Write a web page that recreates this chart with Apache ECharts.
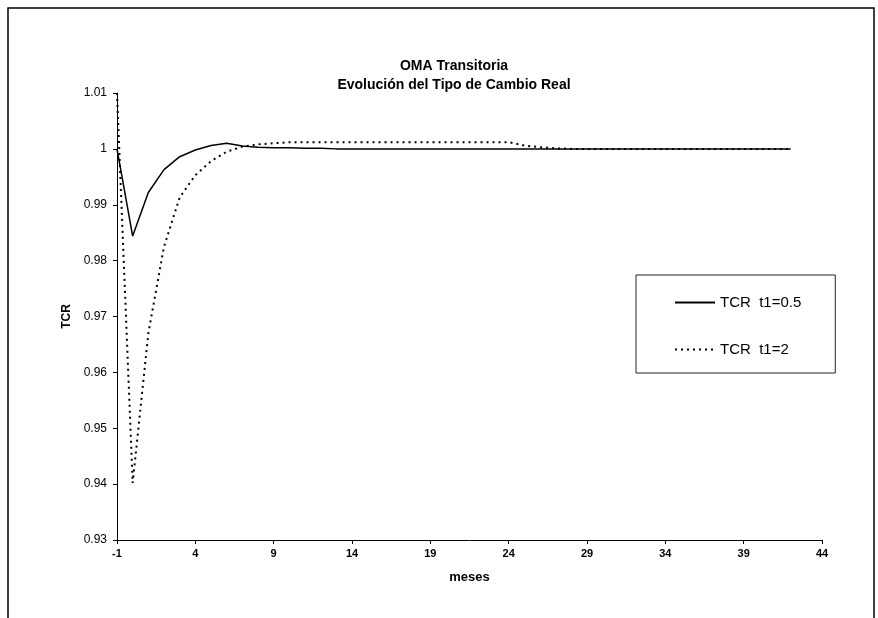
<!DOCTYPE html>
<html>
<head>
<meta charset="utf-8">
<script src="https://cdn.jsdelivr.net/npm/echarts@6/dist/echarts.min.js"></script>
<style>
html,body{margin:0;padding:0;background:#fff;}
#chart{width:878px;height:618px;}
</style>
</head>
<body>
<div id="chart"></div>
<script>
// Category ticks (months)
var months = [-1,0,1,2,3,4,5,6,7,8,9,10,11,12,13,14,15,16,17,18,19,20,21,22,23,24,25,26,27,28,29,30,31,32,33,34,35,36,37,38,39,40,41,42,43,44];
// TCR t1=0.5 (months -1..42)
var tcrA = [1.0000, 0.9844, 0.9922, 0.9963, 0.9986, 0.9998, 1.0006, 1.0010, 1.0005, 1.0003,
            1.0002, 1.0002, 1.0001, 1.0001, 1.0000, 1.0000, 1.0000, 1.0000, 1.0000, 1.0000,
            1.0000, 1.0000, 1.0000, 1.0000, 1.0000, 1.0000, 1.0000, 1.0000, 1.0000, 1.0000,
            1.0000, 1.0000, 1.0000, 1.0000, 1.0000, 1.0000, 1.0000, 1.0000, 1.0000, 1.0000,
            1.0000, 1.0000, 1.0000, 1.0000];
// TCR t1=2 (months -1..42)
var tcrB = [1.0100, 0.9402, 0.9670, 0.9825, 0.9913, 0.9953, 0.9978, 0.9995, 1.0004, 1.0008,
            1.0010, 1.0012, 1.0012, 1.0012, 1.0012, 1.0012, 1.0012, 1.0012, 1.0012, 1.0012,
            1.0012, 1.0012, 1.0012, 1.0012, 1.0012, 1.0012, 1.0006, 1.0003, 1.0001, 1.0000,
            1.0000, 1.0000, 1.0000, 1.0000, 1.0000, 1.0000, 1.0000, 1.0000, 1.0000, 1.0000,
            1.0000, 1.0000, 1.0000, 1.0000];
var seriesNames = ['TCR  t1=0.5', 'TCR  t1=2'];

var chart = echarts.init(document.getElementById('chart'));
var FONT = 'Liberation Sans, Arial, sans-serif';
chart.setOption({
  backgroundColor: '#fff',
  animation: false,
  title: {
    text: 'OMA Transitoria\nEvolución del Tipo de Cambio Real',
    left: 449, top: 52, textAlign: 'center',
    textStyle: {fontFamily: FONT, fontSize: 14, fontWeight: 'bold', color: '#000', lineHeight: 19}
  },
  graphic: [{
    type: 'rect', silent: true, z: 100,
    shape: {x: 8, y: 8, width: 866, height: 700},
    style: {fill: null, stroke: '#000', lineWidth: 1.5}
  }],
  legend: {
    orient: 'vertical',
    left: 636, top: 275,
    padding: [20, 34, 16, 38],
    itemWidth: 40, itemHeight: 14, itemGap: 32,
    borderColor: '#222', borderWidth: 1,
    itemStyle: {opacity: 0},
    textStyle: {fontFamily: FONT, fontSize: 15, color: '#000'},
    data: seriesNames
  },
  grid: {left: 117, right: 56, top: 93, bottom: 78},
  xAxis: {
    type: 'category',
    data: months,
    boundaryGap: false,
    name: 'meses', nameLocation: 'middle', nameGap: 31,
    nameTextStyle: {fontFamily: FONT, fontSize: 13, fontWeight: 'bold', color: '#000'},
    axisLine: {lineStyle: {color: '#000', width: 1}},
    axisTick: {interval: 4, length: 4, lineStyle: {color: '#000'}},
    axisLabel: {interval: 4, fontFamily: FONT, fontSize: 11, fontWeight: 'bold', color: '#000', margin: 8},
    splitLine: {show: false}
  },
  yAxis: {
    type: 'value',
    min: 0.93, max: 1.01, interval: 0.01,
    name: 'TCR', nameLocation: 'middle', nameGap: 44, nameRotate: 90,
    nameTextStyle: {fontFamily: FONT, fontSize: 12, fontWeight: 'bold', color: '#000'},
    axisLine: {show: true, lineStyle: {color: '#000', width: 1}},
    axisTick: {show: true, length: 4, lineStyle: {color: '#000'}},
    axisLabel: {fontFamily: FONT, fontSize: 12, color: '#000', margin: 10},
    splitLine: {show: false}
  },
  series: [{
    name: seriesNames[0], type: 'line', data: tcrA,
    symbol: 'none', smooth: false,
    lineStyle: {color: '#000', width: 1.5, type: 'solid'},
    itemStyle: {color: '#000'}
  }, {
    name: seriesNames[1], type: 'line', data: tcrB,
    symbol: 'none', smooth: false,
    lineStyle: {color: '#000', width: 2, type: [2, 4]},
    itemStyle: {color: '#000'}
  }]
});
</script>
</body>
</html>
